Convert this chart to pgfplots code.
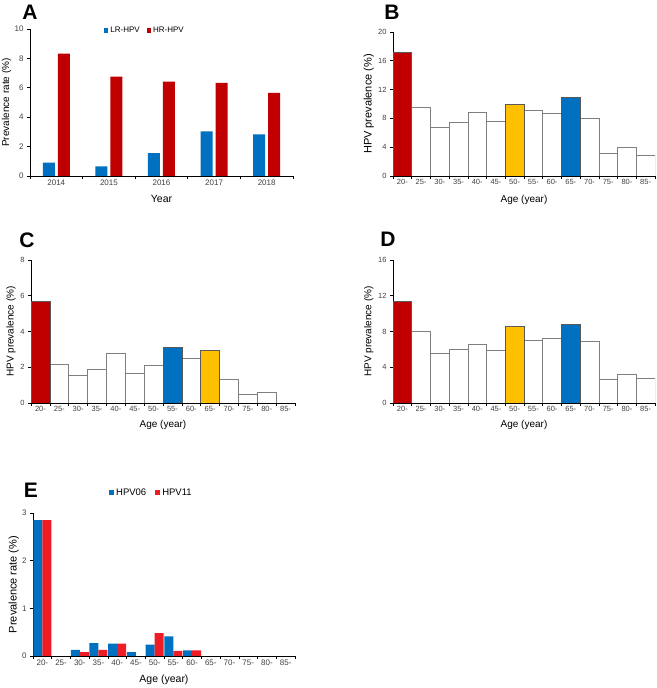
\documentclass[border=0pt]{standalone}
\usepackage{fontspec}
\setmainfont{Liberation Sans}
\usepackage{pgfplots}
\pgfplotsset{compat=1.18}

\definecolor{hred}{HTML}{C00000}
\definecolor{hblue}{HTML}{0070C0}
\definecolor{hyellow}{HTML}{FFC000}
\definecolor{ered}{HTML}{EE1C25}
\definecolor{edgegray}{HTML}{7F7F7F}

\pgfplotsset{
  panel/.style={
    scale only axis,
    axis lines=left,
    axis line style={-, line width=0.8pt},
    tick align=outside,
    major tick length=3pt,
    tick style={black, line width=0.6pt},
    /pgf/number format/assume math mode=true,
    tick label style={text=black!75, font=\fontsize{7.5}{8}\selectfont},
    label style={font=\fontsize{10}{12}\selectfont},
    ymin=0,
  },
  agecat/.style={
    xmin=-0.5, xmax=13.5,
    xtick={-0.5,0.5,...,13.5}, xticklabels={},
    extra x ticks={0,1,...,13},
    extra x tick labels={20-,25-,30-,35-,40-,45-,50-,55-,60-,65-,70-,75-,80-,85-},
    extra x tick style={major tick length=0pt},
    xlabel={Age (year)},
  },
  whitebar/.style={ybar, bar width=18.71pt, bar shift=0pt, fill=white, draw=edgegray, line width=0.6pt},
  colbar/.style={ybar, bar width=18.71pt, bar shift=0pt, fill=#1, draw=black!65, line width=0.6pt},
}

\begin{document}
\begin{tikzpicture}
\path[use as bounding box] (0pt,0pt) rectangle (656pt,688pt);

% ---- A
\begin{axis}[panel,
  at={(30pt,512pt)}, anchor=south west,
  width=263pt, height=147pt,
  ymax=10, ytick={0,2,...,10},
  xmin=-0.5, xmax=4.5,
  xtick={-0.5,0.5,...,4.5}, xticklabels={},
  extra x ticks={0,1,2,3,4},
  extra x tick labels={2014,2015,2016,2017,2018},
  extra x tick style={major tick length=0pt},
  tick label style={font=\fontsize{8}{9}\selectfont},
  ybar=3pt, bar width=12pt,
  xlabel={Year}, ylabel={Prevalence rate (\%)},
  xlabel style={font=\fontsize{10.5}{12}\selectfont, at={(axis description cs:0.5,-0.156)}, anchor=center},
  ylabel style={at={(axis description cs:-0.089,0.5)}, anchor=center},
  legend style={draw=none, fill=none, at={(0.437,0.99)}, anchor=center,
    font=\fontsize{8}{9}\selectfont, legend columns=2,
    /tikz/every even column/.append style={column sep=5pt}},
]
\addplot[fill=hblue, draw=none,
  legend image code/.code={\fill[hblue] (0pt,-2.2pt) rectangle (4.4pt,2.2pt);}]
  coordinates {(0,0.91) (1,0.66) (2,1.56) (3,3.04) (4,2.83)};
\addplot[fill=hred, draw=none,
  legend image code/.code={\fill[hred] (0pt,-2.2pt) rectangle (4.4pt,2.2pt);}]
  coordinates {(0,8.32) (1,6.76) (2,6.42) (3,6.33) (4,5.65)};
\legend{LR-HPV, HR-HPV}
\end{axis}

% ---- B
\begin{axis}[panel, agecat,
  at={(393pt,512pt)}, anchor=south west,
  width=262pt, height=144pt,
  ymax=20, ytick={0,4,...,20},
  ylabel={HPV prevalence (\%)},
  ylabel style={font=\fontsize{11}{12}\selectfont, at={(axis description cs:-0.092,0.5)}, anchor=center},
  xlabel style={at={(axis description cs:0.5,-0.163)}, anchor=center},
]
\addplot[whitebar] coordinates {(1,9.56) (2,6.77) (3,7.42) (4,8.82) (5,7.61) (7,9.14) (8,8.72) (10,7.98) (11,3.16) (12,4.04) (13,2.88)};
\addplot[colbar=hred] coordinates {(0,17.2)};
\addplot[colbar=hyellow] coordinates {(6,9.98)};
\addplot[colbar=hblue] coordinates {(9,10.9)};
\end{axis}

% ---- C
\begin{axis}[panel, agecat,
  at={(31pt,285pt)}, anchor=south west,
  width=264pt, height=143pt,
  ymax=8, ytick={0,2,...,8},
  ylabel={HPV prevalence (\%)},
  ylabel style={at={(axis description cs:-0.076,0.5)}, anchor=center},
  xlabel style={at={(axis description cs:0.5,-0.154)}, anchor=center},
]
\addplot[whitebar, bar width=18.86pt] coordinates {(1,2.18) (2,1.56) (3,1.86) (4,2.79) (5,1.67) (6,2.12) (8,2.51) (10,1.30) (11,0.47) (12,0.61)};
\addplot[colbar=hred, bar width=18.86pt] coordinates {(0,5.71)};
\addplot[colbar=hblue, bar width=18.86pt] coordinates {(7,3.11)};
\addplot[colbar=hyellow, bar width=18.86pt] coordinates {(9,2.94)};
\end{axis}

% ---- D
\begin{axis}[panel, agecat,
  at={(393pt,285pt)}, anchor=south west,
  width=262pt, height=143pt,
  ymax=16, ytick={0,4,...,16},
  ylabel={HPV prevalence (\%)},
  ylabel style={at={(axis description cs:-0.092,0.5)}, anchor=center},
  xlabel style={at={(axis description cs:0.5,-0.154)}, anchor=center},
]
\addplot[whitebar] coordinates {(1,8.04) (2,5.58) (3,6.03) (4,6.62) (5,5.92) (7,7.0) (8,7.26) (10,6.92) (11,2.68) (12,3.2) (13,2.79)};
\addplot[colbar=hred] coordinates {(0,11.42)};
\addplot[colbar=hyellow] coordinates {(6,8.63)};
\addplot[colbar=hblue] coordinates {(9,8.78)};
\end{axis}

% ---- E
\begin{axis}[panel, agecat,
  at={(33pt,32pt)}, anchor=south west,
  width=262pt, height=143pt,
  ymax=3, ytick={0,1,2,3},
  tick label style={font=\fontsize{8}{9}\selectfont},
  ybar=0pt, bar width=9pt,
  ylabel={Prevalence rate (\%)},
  ylabel style={font=\fontsize{11}{12}\selectfont, at={(axis description cs:-0.073,0.5)}, anchor=center},
  xlabel style={font=\fontsize{10.5}{12}\selectfont, at={(axis description cs:0.5,-0.168)}, anchor=center},
  legend style={draw=none, fill=none, at={(0.452,1.14)}, anchor=center,
    font=\fontsize{9.5}{10}\selectfont, legend columns=2,
    /tikz/every even column/.append style={column sep=7pt}},
]
\addplot[fill=hblue, draw=none,
  legend image code/.code={\fill[hblue] (0pt,-2.5pt) rectangle (5pt,2.5pt);}]
  coordinates {(0,2.85) (2,0.13) (3,0.27) (4,0.26) (5,0.08) (6,0.24) (7,0.41) (8,0.12)};
\addplot[fill=ered, draw=none,
  legend image code/.code={\fill[ered] (0pt,-2.5pt) rectangle (5pt,2.5pt);}]
  coordinates {(0,2.85) (2,0.08) (3,0.13) (4,0.26) (6,0.48) (7,0.11) (8,0.12)};
\legend{HPV06, HPV11}
\end{axis}

% panel letters
\node[font=\bfseries\fontsize{21}{21}\selectfont] at (30pt,675.5pt) {A};
\node[font=\bfseries\fontsize{21}{21}\selectfont] at (392pt,676pt) {B};
\node[font=\bfseries\fontsize{21}{21}\selectfont] at (27pt,448pt) {C};
\node[font=\bfseries\fontsize{21}{21}\selectfont] at (388pt,449pt) {D};
\node[font=\bfseries\fontsize{21}{21}\selectfont] at (31pt,198pt) {E};
\end{tikzpicture}
\end{document}
